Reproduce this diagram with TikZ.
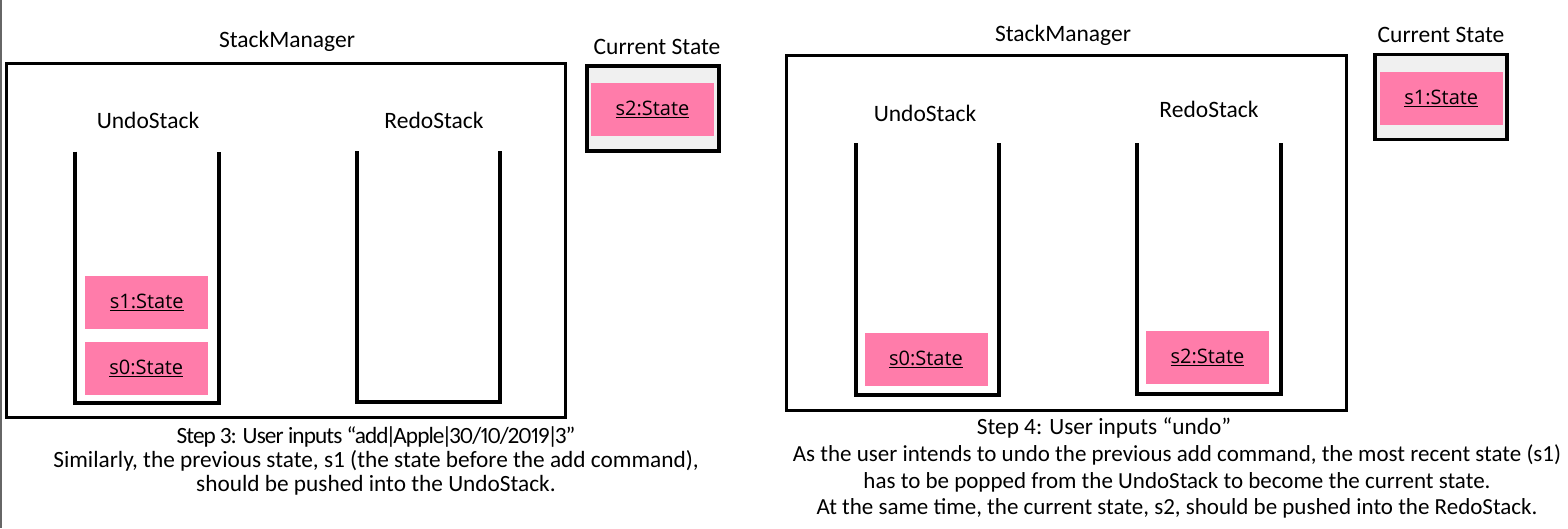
\documentclass[tikz,border=0pt]{standalone}
\usepackage{fontspec}
\setmainfont{Carlito}
\newfontfamily\boxfont{Open Sans}
\usetikzlibrary{positioning}
\definecolor{statepink}{HTML}{FF7CAA}
\definecolor{currentgray}{HTML}{F0F0F0}
\newcommand\tightbar{\kern-3pt|\kern-3pt}
\tikzset{
  title/.style={font=\fontsize{23.5}{28}\selectfont, inner sep=0pt},
  state node/.style={fill=statepink, minimum width=123pt, minimum height=53pt, inner sep=0pt,
    font=\boxfont\fontsize{20}{24}\selectfont},
  current box/.style={fill=currentgray, draw, line width=3.5pt, minimum width=132pt, minimum height=85pt},
  manager/.style={line width=3pt},
  stackwall/.style={line width=4pt},
  caption/.style={font=\fontsize{23.3}{24}\selectfont, align=center, inner sep=0pt},
}

\begin{document}
\begin{tikzpicture}[x=1pt,y=-1pt]
  \useasboundingbox (0,0) rectangle (1568,528);
  \draw[black!60, line width=1.5pt] (0.75,0) -- (0.75,528);

  % step 3
  \node[title] (mgr3) at (287,41) {StackManager};
  \draw[manager] (6.5,63.8) rectangle (565.5,417.5);
  \node[title] (undo3) at (148,120.5) {UndoStack};
  \node[title] (redo3) at (434,120.5) {RedoStack};
  \draw[stackwall] (75,151.5) |- (219,402.5) -- (219,151.5);
  \draw[stackwall] (356.5,151) |- (499.5,401.5) -- (499.5,151);
  \node[state node] (s1u) at (146.7,302) {\underline{s1:State}};
  \node[state node] (s0u) at (146.3,368.2) {\underline{s0:State}};

  \node[title] (cur3) at (657,46.5) {Current State};
  \node[current box] (curbox3) at (653,108.5) {};
  \node[state node] (s2c) at (652.5,109.3) {\underline{s2:State}};

  \node[caption] (cap3) at (376,461) {{\addfontfeatures{Numbers=Proportional,LetterSpace=-4}Step 3: User inputs
    “add\tightbar Apple\tightbar 30/10/2019\tightbar 3”}\\
    Similarly, the previous state, s1 (the state before the add command),\\
    should be pushed into the UndoStack.};

  % step 4
  \node[title] (mgr4) at (1063,35.4) {StackManager};
  \draw[manager] (786.5,55.5) rectangle (1346,410);
  \node[title] (undo4) at (925,113) {UndoStack};
  \node[title] (redo4) at (1209,109) {RedoStack};
  \draw[stackwall] (855.5,143) |- (998.5,394.5) -- (998.5,143);
  \draw[stackwall] (1136.5,143) |- (1280.5,394) -- (1280.5,143);
  \node[state node] (s0d) at (926,359.7) {\underline{s0:State}};
  \node[state node] (s2r) at (1207.5,357) {\underline{s2:State}};

  \node[title] (cur4) at (1441,34.7) {Current State};
  \node[current box] (curbox4) at (1441.2,97.2) {};
  \node[state node] (s1c) at (1441.3,98) {\underline{s1:State}};

  \node[caption] (step4) at (1104,428) {Step 4: User inputs “undo”};
  \node[caption, font=\fontsize{23}{26.7}\selectfont] (cap4) at (1177,481.5) {As the user intends to undo the previous add command, the most recent state (s1)\\
    has to be popped from the UndoStack to become the current state.\\
    At the same time, the current state, s2, should be pushed into the RedoStack.};
\end{tikzpicture}
\end{document}
